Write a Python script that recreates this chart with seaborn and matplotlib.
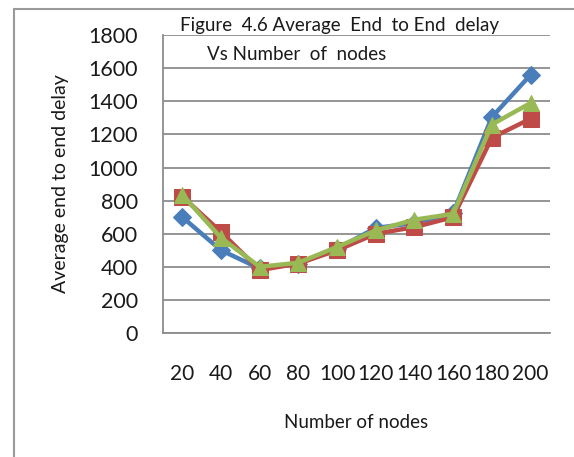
import numpy as np
import pandas as pd
import seaborn as sns
from matplotlib import pyplot as plt
from matplotlib.lines import Line2D

sns.set_style('white')
plt.rcParams['font.family'] = ['Lato', 'DejaVu Sans']

# 数据
nodes = ['20', '40', '60', '80', '100', '120', '140', '160', '180', '200']
delay_blue = [700, 500, 390, 420, 510, 635, 665, 725, 1305, 1560]
delay_red = [825, 610, 380, 420, 500, 600, 640, 700, 1180, 1295]
delay_green = [835, 575, 400, 425, 520, 620, 685, 720, 1260, 1390]

df = pd.DataFrame({'nodes': nodes * 3,
                   'delay': delay_blue + delay_red + delay_green,
                   'series': ['s1'] * 10 + ['s2'] * 10 + ['s3'] * 10})

fig = plt.figure(figsize=(5.74, 4.57), dpi=100)
ax = fig.add_axes([0.284, 0.2713, 0.958 - 0.284, 0.923 - 0.2713])

grid_c = '#8c8c8c'
palette = {'s1': '#4A7EBB', 's2': '#BE4B48', 's3': '#98B954'}
markers = {'s1': 'D', 's2': 's', 's3': '^'}
sizes = {'s1': 9, 's2': 11, 's3': 12}

for s in ['s1', 's2', 's3']:
    sub = df[df['series'] == s]
    sns.lineplot(data=sub, x='nodes', y='delay', ax=ax, color=palette[s],
                 linewidth=3.2, marker=markers[s], markersize=sizes[s],
                 markeredgecolor=palette[s], sort=False)

ax.set_xlim(-0.5, 9.5)
ax.set_ylim(0, 1800)
ax.set_yticks(np.arange(0, 1801, 200))
ax.yaxis.grid(True, color=grid_c, linewidth=1.3)
ax.xaxis.grid(False)

# 类别刻度在边界上
ax.set_xticks(np.arange(10))
ax.set_xticklabels(nodes)
ax.set_xticks(np.arange(-0.5, 10, 1), minor=True)
ax.tick_params(axis='x', which='major', length=0, pad=22, labelsize=15, colors='#1a1a1a')
ax.tick_params(axis='x', which='minor', length=6, width=1.2, color=grid_c, direction='out')
ax.tick_params(axis='y', length=5, width=1.2, color=grid_c, direction='out',
               labelsize=15.5, labelcolor='#1a1a1a', pad=13)

for side in ['top', 'right']:
    ax.spines[side].set_visible(False)
for side in ['left', 'bottom']:
    ax.spines[side].set_color(grid_c)
    ax.spines[side].set_linewidth(1.3)

ax.set_xlabel('Number of nodes', fontsize=13.5, labelpad=22, color='#1a1a1a')
ax.set_ylabel('Average end to end delay', fontsize=14, labelpad=14, color='#1a1a1a')

# 标题
fig.text(339 / 574, 1 - 26 / 457, 'Figure  4.6 Average  End  to End  delay',
         ha='center', va='center', fontsize=13.5, color='#1a1a1a')
fig.text(297 / 574, 1 - 54 / 457, 'Vs Number  of  nodes',
         ha='center', va='center', fontsize=13.5, color='#1a1a1a')

# 外框
fig.add_artist(Line2D([13.5 / 574, 13.5 / 574], [0, 1 - 8.5 / 457],
                      transform=fig.transFigure, color='#9a9a9a', linewidth=1.5))
fig.add_artist(Line2D([13.5 / 574, 1], [1 - 8.5 / 457, 1 - 8.5 / 457],
                      transform=fig.transFigure, color='#9a9a9a', linewidth=1.5))

fig.savefig('out.png', dpi=100)
